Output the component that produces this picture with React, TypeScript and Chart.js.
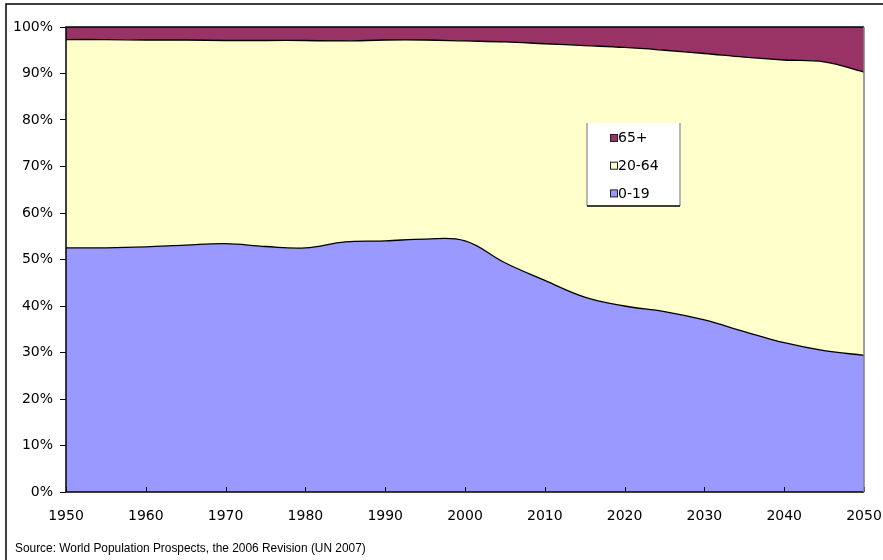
import { useEffect, useRef } from "react";
import { Chart, registerables } from "chart.js";

Chart.register(...registerables);

const years = [1950, 1955, 1960, 1965, 1970, 1975, 1980, 1985, 1990, 1995, 2000, 2005, 2010, 2015, 2020, 2025, 2030, 2035, 2040, 2045, 2050];
const age0to19 = [52.5, 52.5, 52.7, 53.1, 53.4, 52.8, 52.5, 53.8, 54.0, 54.4, 54.0, 49.3, 45.5, 41.9, 40.0, 38.8, 37.0, 34.5, 32.1, 30.4, 29.4];
const age20to64 = [44.8, 44.8, 44.5, 44.1, 43.7, 44.3, 44.6, 43.2, 43.2, 42.8, 43.0, 47.5, 50.9, 54.1, 55.6, 56.2, 57.3, 59.0, 60.8, 62.1, 60.9];
const age65plus = [2.7, 2.7, 2.8, 2.8, 2.9, 2.9, 2.9, 3.0, 2.8, 2.8, 3.0, 3.2, 3.6, 4.0, 4.4, 5.0, 5.7, 6.5, 7.1, 7.5, 9.7];
const seriesLabels = ["0-19", "20-64", "65+"];
const seriesColors = ["#9999FF", "#FFFFCC", "#993366"];
const sourceNote = "Source: World Population Prospects, the 2006 Revision (UN 2007)";

const FONT = "'DejaVu Sans', Verdana, sans-serif";
const NOTE_FONT = "'Liberation Sans', Arial, sans-serif";

const decorPlugin = {
  id: "decor",
  beforeDraw(chart: any) {
    const { ctx, width, height } = chart;
    ctx.save();
    ctx.fillStyle = "#ffffff";
    ctx.fillRect(0, 0, width, height);
    ctx.strokeStyle = "#000000";
    ctx.lineWidth = 1.5;
    ctx.beginPath();
    ctx.moveTo(6, height + 2);
    ctx.lineTo(6, 4);
    ctx.lineTo(width + 2, 4);
    ctx.stroke();
    ctx.restore();
  },
  afterDatasetsDraw(chart: any) {
    const { ctx, chartArea } = chart;
    const { left, right, top, bottom } = chartArea;
    const xs = chart.scales.x;
    ctx.save();
    // inward x tick marks
    ctx.strokeStyle = "#000000";
    ctx.lineWidth = 1;
    xs.ticks.forEach((t: any) => {
      const px = Math.round(xs.getPixelForValue(t.value)) + 0.5;
      ctx.beginPath();
      ctx.moveTo(px, bottom);
      ctx.lineTo(px, bottom - 5);
      ctx.stroke();
    });
    // plot border
    ctx.lineWidth = 1.5;
    ctx.strokeStyle = "#000000";
    ctx.beginPath();
    ctx.moveTo(right, top);
    ctx.lineTo(left, top);
    ctx.lineTo(left, bottom);
    ctx.lineTo(right, bottom);
    ctx.stroke();
    ctx.strokeStyle = "#808080";
    ctx.beginPath();
    ctx.moveTo(right, top);
    ctx.lineTo(right, bottom);
    ctx.stroke();

    // legend
    const lx = 587, ly = 123, lw = 93, lh = 83;
    ctx.fillStyle = "#ffffff";
    ctx.fillRect(lx, ly, lw, lh);
    ctx.strokeStyle = "#a0a0a0";
    ctx.lineWidth = 1.5;
    ctx.beginPath();
    ctx.moveTo(lx, ly + lh);
    ctx.lineTo(lx, ly);
    ctx.moveTo(lx + lw, ly);
    ctx.lineTo(lx + lw, ly + lh);
    ctx.stroke();
    ctx.strokeStyle = "#000000";
    ctx.beginPath();
    ctx.moveTo(lx, ly + lh);
    ctx.lineTo(lx + lw, ly + lh);
    ctx.stroke();

    const ds = chart.data.datasets;
    const order = [2, 1, 0];
    ctx.font = `14px ${FONT}`;
    ctx.textBaseline = "middle";
    ctx.textAlign = "left";
    order.forEach((di, row) => {
      const cy = 138 + row * 27.7;
      ctx.fillStyle = ds[di].backgroundColor;
      ctx.fillRect(610.5, cy - 3.5, 7, 7);
      ctx.strokeStyle = "#222222";
      ctx.lineWidth = 1;
      ctx.strokeRect(610.5, cy - 3.5, 7, 7);
      ctx.fillStyle = "#000000";
      ctx.fillText(ds[di].label, 618, cy + 0.5);
    });

    // source note
    ctx.font = `10px ${NOTE_FONT}`;
    const w10 = ctx.measureText(sourceNote).width;
    const size = (10 * 351) / w10;
    ctx.font = `${size.toFixed(2)}px ${NOTE_FONT}`;
    ctx.fillStyle = "#000000";
    ctx.textBaseline = "middle";
    ctx.fillText(sourceNote, 15, 549);
    ctx.restore();
  },
};

export default function App() {
  const ref = useRef<HTMLCanvasElement>(null);
  useEffect(() => {
    const series = [age0to19, age20to64, age65plus];
    const chart = new Chart(ref.current as HTMLCanvasElement, {
      type: "line",
      data: {
        datasets: series.map((vals, i) => ({
          label: seriesLabels[i],
          data: years.map((x, j) => ({ x, y: vals[j] })),
          backgroundColor: seriesColors[i],
          borderColor: "#000000",
          borderWidth: i === 2 ? 0 : 1.3,
          fill: i === 0 ? "origin" : "-1",
          pointRadius: 0,
          tension: 0.4,
        })),
      },
      options: {
        responsive: false,
        animation: false,
        events: [],
        layout: { padding: { left: 0, top: 27, right: 19, bottom: 0 } },
        plugins: { legend: { display: false }, tooltip: { enabled: false }, title: { display: false } },
        scales: {
          x: {
            type: "linear",
            min: 1950,
            max: 2050,
            grid: { display: false },
            border: { display: false },
            ticks: {
              stepSize: 10,
              padding: 8,
              color: "#000000",
              font: { family: FONT, size: 14 },
              maxRotation: 0,
              callback: (v: any) => String(v),
            },
            afterFit: (s: any) => {
              s.height = 68;
              s.paddingLeft = 0;
              s.paddingRight = 0;
            },
          },
          y: {
            stacked: true,
            min: 0,
            max: 100,
            grid: { drawOnChartArea: false, drawTicks: true, tickLength: 6, color: "#000000" },
            border: { display: false },
            ticks: {
              stepSize: 10,
              padding: 7,
              color: "#000000",
              font: { family: FONT, size: 14 },
              callback: (v: any) => `${v}%`,
            },
            afterFit: (s: any) => {
              s.width = 66;
              s.paddingTop = 0;
              s.paddingBottom = 0;
            },
          },
        },
      },
      plugins: [decorPlugin],
    } as any);
    return () => chart.destroy();
  }, []);
  return (
    <div style={{ position: "fixed", left: 0, top: 0, width: 883, height: 560, background: "#ffffff" }}>
      <canvas ref={ref} width={883} height={560} style={{ display: "block", width: 883, height: 560 }} />
    </div>
  );
}
